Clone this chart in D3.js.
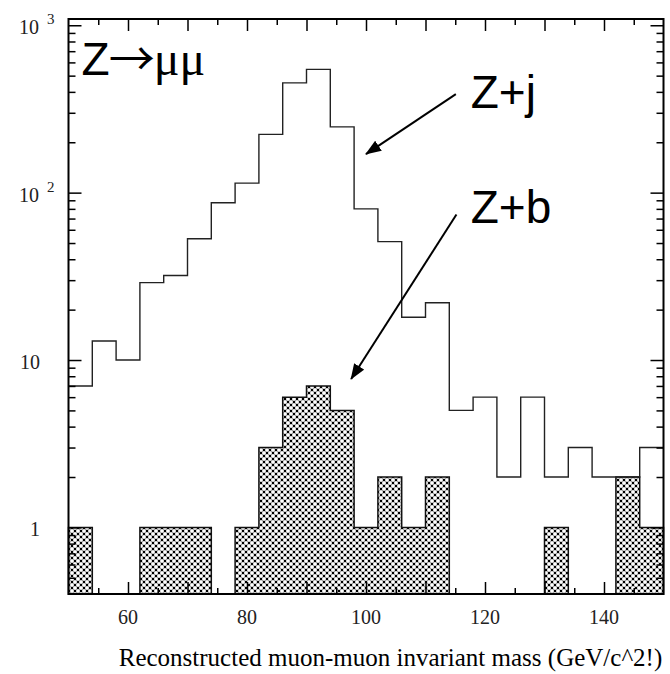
<!DOCTYPE html>
<html>
<head>
<meta charset="utf-8">
<script src="https://cdn.jsdelivr.net/npm/d3@7"></script>
<style>
  html, body { margin: 0; padding: 0; background: #fff; }
  svg { display: block; }
</style>
</head>
<body>
<svg id="chart" width="670" height="674"></svg>
<script>
// ---- data ----
const binEdges = [50,54,58,62,66,70,74,78,82,86,90,94,98,102,106,110,114,118,122,126,130,134,138,142,146,150];
const zjCounts = [7,13,10,29,32,53,87,114,223,453,545,247,80,51,18,22,5,6,2,6,2,3,2,2,3];
const zbCounts = [1,0,0,1,1,1,0,1,3,6,7,5,1,2,1,2,0,0,0,0,1,0,0,2,1];
const xMajorTicks = [60,70,80,90,100,110,120,130,140];
const xMinorTicks = [55,65,75,85,95,105,115,125,135,145];
const xTickLabels = [60,80,100,120,140];
const yMajorTicks = [1,10,100,1000];
const yMinorTicks = [0.5,0.6,0.7,0.8,0.9,2,3,4,5,6,7,8,9,20,30,40,50,60,70,80,90,200,300,400,500,600,700,800,900];
const yTickBase = ["1","10","10","10"];
const yTickExp  = ["","","2","3"];
const xTitle = "Reconstructed muon-muon invariant mass (GeV/c^2!)";
const annotations = [
  {text: "Z+j", x: 117.6, y: 320, ax0: 115.1, ay0: 388, ax1: 100.0, ay1: 170},
  {text: "Z+b", x: 117.6, y: 66,  ax0: 115.2, ay0: 74,  ax1: 97.5,  ay1: 7.7}
];
const processLabel = {x: 52.2, y: 504};

// ---- layout ----
const svg = d3.select("#chart");
const X0 = 68.5, X1 = 663.5, Y0 = 19, Y1 = 594;
const x = d3.scaleLinear().domain([50,150]).range([X0, X1]);
const y = d3.scaleLog().domain([0.4,1090]).range([Y1, Y0]);
const yMin = y.domain()[0];

// pattern
const defs = svg.append("defs");
const pat = defs.append("pattern").attr("id","hatch")
  .attr("patternUnits","userSpaceOnUse").attr("width",6).attr("height",6);
pat.append("rect").attr("width",6).attr("height",6).attr("fill","#858585");
[[3,0],[0,3],[6,3],[3,6]].forEach(([cx,cy]) =>
  pat.append("circle").attr("cx",cx).attr("cy",cy).attr("r",1.8).attr("fill","#fff"));
[[0,0],[6,0],[0,6],[6,6],[3,3]].forEach(([cx,cy]) =>
  pat.append("rect").attr("x",cx-1).attr("y",cy-1).attr("width",2).attr("height",2).attr("fill","#000"));

defs.append("marker").attr("id","arrow")
  .attr("markerUnits","userSpaceOnUse")
  .attr("viewBox","0 0 16 12").attr("refX",15).attr("refY",6)
  .attr("markerWidth",16).attr("markerHeight",12).attr("orient","auto")
  .append("path").attr("d","M0,0 L16,6 L0,12 Z").attr("fill","#000");

// step points
function stepPoints(counts){
  const pts = counts.map((c,i) => ({x: binEdges[i], v: c}));
  pts.push({x: binEdges[binEdges.length-1], v: counts[counts.length-1]});
  return pts;
}

// Z+b filled histogram
const zbArea = d3.area().curve(d3.curveStepAfter)
  .x(d => x(d.x)).y0(y(yMin)).y1(d => y(Math.max(d.v, yMin)));
svg.append("path").datum(stepPoints(zbCounts))
  .attr("d", zbArea).attr("fill","url(#hatch)")
  .attr("stroke","#111").attr("stroke-width",1.5);

// Z+j outline histogram
const zjLine = d3.line().curve(d3.curveStepAfter)
  .x(d => x(d.x)).y(d => y(d.v));
svg.append("path").datum(stepPoints(zjCounts))
  .attr("d", zjLine).attr("fill","none")
  .attr("stroke","#222").attr("stroke-width",1.4);

// axes (ticks only)
function tickAxis(axisFn, scale, values, size){
  return axisFn(scale).tickValues(values).tickSize(size).tickFormat("");
}
const gTicks = svg.append("g").attr("class","ticks");
gTicks.append("g").attr("transform",`translate(0,${Y1})`).call(tickAxis(d3.axisBottom,x,xMajorTicks,-12));
gTicks.append("g").attr("transform",`translate(0,${Y1})`).call(tickAxis(d3.axisBottom,x,xMinorTicks,-6));
gTicks.append("g").attr("transform",`translate(0,${Y0})`).call(tickAxis(d3.axisTop,x,xMajorTicks,-12));
gTicks.append("g").attr("transform",`translate(0,${Y0})`).call(tickAxis(d3.axisTop,x,xMinorTicks,-6));
gTicks.append("g").attr("transform",`translate(${X0},0)`).call(tickAxis(d3.axisLeft,y,yMajorTicks,-13));
gTicks.append("g").attr("transform",`translate(${X0},0)`).call(tickAxis(d3.axisLeft,y,yMinorTicks,-7));
gTicks.append("g").attr("transform",`translate(${X1},0)`).call(tickAxis(d3.axisRight,y,yMajorTicks,-13));
gTicks.append("g").attr("transform",`translate(${X1},0)`).call(tickAxis(d3.axisRight,y,yMinorTicks,-7));
gTicks.selectAll(".domain").remove();
gTicks.selectAll(".tick line").attr("stroke","#000").attr("stroke-width",1.5);

// frame
svg.append("rect").attr("x",X0).attr("y",Y0).attr("width",X1-X0).attr("height",Y1-Y0)
  .attr("fill","none").attr("stroke","#000").attr("stroke-width",2);

// x tick labels
svg.append("g").selectAll("text").data(xTickLabels).join("text")
  .attr("x", d => x(d)).attr("y", Y1+30)
  .attr("text-anchor","middle")
  .attr("font-family","'Liberation Serif', 'DejaVu Serif', serif")
  .attr("font-size",20).attr("fill","#222")
  .text(d => d);

// y tick labels
const yl = svg.append("g").selectAll("text").data(yMajorTicks).join("text")
  .attr("y", d => y(d)+9)
  .attr("font-family","'Liberation Serif', 'DejaVu Serif', serif")
  .attr("fill","#222");
yl.each(function(d,i){
  const t = d3.select(this);
  if (yTickExp[i]) {
    t.attr("x", 19).attr("font-size",20);
    t.append("tspan").text(yTickBase[i]);
    t.append("tspan").attr("dx",8).attr("dy",-10).attr("font-size",15).text(yTickExp[i]);
  } else {
    t.attr("x", 40).attr("text-anchor","end").attr("font-size",20).text(yTickBase[i]);
  }
});

// x title
svg.append("text").attr("x", 390.5).attr("y", 666)
  .attr("text-anchor","middle")
  .attr("font-family","'Liberation Serif', 'DejaVu Serif', serif")
  .attr("font-size",25).attr("fill","#000")
  .text(xTitle);

// process label
const pl = svg.append("text").attr("x", x(processLabel.x)).attr("y", y(processLabel.y))
  .attr("font-family","'Liberation Sans', Arial, sans-serif").attr("font-size",46).attr("fill","#000");
pl.append("tspan").text("Z");
pl.append("tspan").attr("font-family","'Noto Sans CJK JP', 'Noto Sans CJK SC', sans-serif").attr("font-size",46).attr("dx",-1).text("→");
pl.append("tspan").attr("font-family","'Liberation Serif', serif").attr("font-size",48).attr("dx",-1).text("μμ");

// annotations
annotations.forEach(a => {
  svg.append("line")
    .attr("x1", x(a.ax0)).attr("y1", y(a.ay0))
    .attr("x2", x(a.ax1)).attr("y2", y(a.ay1))
    .attr("stroke","#000").attr("stroke-width",2).attr("marker-end","url(#arrow)");
  svg.append("text").attr("x", x(a.x)).attr("y", y(a.y))
    .attr("font-family","'Liberation Sans', Arial, sans-serif").attr("font-size",46).attr("fill","#000")
    .text(a.text);
});
</script>
</body>
</html>
